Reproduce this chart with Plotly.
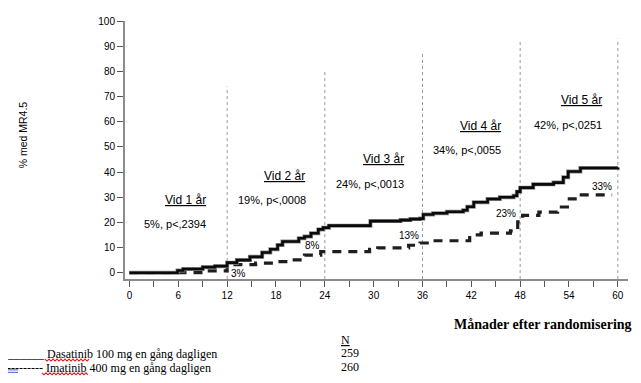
import plotly.graph_objects as go

# ---- data ----
das_months = [0, 5.9, 6.6, 9.0, 10.5, 12.0, 13.2, 14.8, 16.3, 17.3, 18.2, 18.8, 20.8, 21.5, 22.3, 23.2,
              23.8, 24.5, 29.6, 33.3, 34.5, 35.7, 36.1, 37.3, 39.0, 41.0, 41.5, 42.3, 44.0, 45.5,
              47.2, 47.6, 48.0, 49.6, 52.1, 53.3, 53.9, 55.4, 60.0]
das_pct = [0, 0.9, 1.5, 2.2, 2.6, 4.0, 5.0, 6.3, 8.0, 9.3, 11.0, 12.4, 13.7, 14.4, 15.7, 17.2,
           17.9, 18.7, 20.5, 20.9, 21.3, 21.5, 23.1, 23.6, 24.2, 24.8, 26.2, 28.0, 29.3, 30.0,
           30.6, 32.2, 33.8, 35.1, 35.8, 37.9, 40.2, 41.6, 41.8]

ima_months = [0, 9.5, 12.0, 12.5, 15.5, 18.0, 20.0, 21.5, 23.5, 29.5, 30.5, 34.3, 35.7, 36.8,
              41.8, 43.2, 46.8, 47.7, 48.3, 50.3, 52.6, 53.8, 55.3, 59.3]
ima_pct = [0, 0.7, 2.5, 3.2, 3.8, 4.4, 5.1, 7.0, 8.4, 9.3, 9.9, 10.9, 11.8, 12.7,
           15.0, 15.7, 16.6, 20.2, 22.8, 24.1, 26.1, 29.3, 30.9, 30.9]

year_marks = [12, 24, 36, 48, 60]
year_line_tops = [74, 80.5, 87, 92, 93]

year_titles = ["Vid 1 år", "Vid 2 år", "Vid 3 år", "Vid 4 år", "Vid 5 år"]
year_stats = ["5%, p<,2394", "19%, p<,0008", "24%, p<,0013", "34%, p<,0055", "42%, p<,0251"]
ima_labels = ["3%", "8%", "13%", "23%", "33%"]

x_ticks = [0, 6, 12, 18, 24, 30, 36, 42, 48, 54, 60]
y_ticks = [0, 10, 20, 30, 40, 50, 60, 70, 80, 90, 100]

series_names = ["Dasatinib 100 mg en gång dagligen", "Imatinib 400 mg en gång dagligen"]
series_n = [259, 260]

# ---- layout helpers (page body has an 8px margin) ----
OFF = 8
W, H = 641 - OFF, 383 - OFF
ML, MT = 125 - OFF, 15 - OFF
PW, PH = 503, 264
MR, MB = W - ML - PW, H - MT - PH


def px(x):
    return (x - OFF - ML) / PW


def py(y):
    return (MT + PH - (y - OFF)) / PH


fig = go.Figure()

# year reference lines
for xm, top in zip(year_marks, year_line_tops):
    fig.add_trace(go.Scatter(x=[xm, xm], y=[-2.5, top], mode="lines",
                             line=dict(color="#9a9a9a", width=1, dash="dot"),
                             hoverinfo="skip", showlegend=False))

fig.add_trace(go.Scatter(x=ima_months, y=ima_pct, mode="lines", line_shape="hv",
                         line=dict(color="#1e1e1e", width=3.2, dash="9px,7px"),
                         name=series_names[1], showlegend=False))
fig.add_trace(go.Scatter(x=das_months, y=das_pct, mode="lines", line_shape="hv",
                         line=dict(color="#8a8a8a", width=4.0),
                         hoverinfo="skip", showlegend=False))
fig.add_trace(go.Scatter(x=das_months, y=das_pct, mode="lines", line_shape="hv",
                         line=dict(color="#0a0a0a", width=2.6),
                         name=series_names[0], showlegend=False))

ann = []
sans = "Liberation Sans, Arial, sans-serif"
serif = "Liberation Serif, Times New Roman, serif"

title_pos = [(6.9, 29.0), (19.0, 38.5), (31.2, 45.1), (43.1, 58.4), (55.5, 68.5)]
stat_pos = [(5.6, 19.4), (17.5, 28.8), (29.6, 35.4), (41.5, 48.6), (53.9, 58.8)]
lab_pos = [(13.4, -0.3), (22.5, 10.9), (34.3, 14.8), (46.2, 23.4), (58.1, 34.4)]

for t, (x, y) in zip(year_titles, title_pos):
    ann.append(dict(x=x, y=y, xref="x", yref="y", text="<u>" + t + "</u>", showarrow=False,
                    font=dict(family=sans, size=12, color="#000")))
for t, (x, y) in zip(year_stats, stat_pos):
    ann.append(dict(x=x, y=y, xref="x", yref="y", text=t, showarrow=False,
                    font=dict(family=sans, size=11, color="#000")))
for t, (x, y) in zip(ima_labels, lab_pos):
    ann.append(dict(x=x, y=y, xref="x", yref="y", text=t, showarrow=False,
                    font=dict(family=sans, size=10, color="#000")))

# y-axis title
ann.append(dict(x=px(23), y=py(132), xref="paper", yref="paper", xanchor="center", yanchor="middle",
                text="% med MR4.5", textangle=-90, showarrow=False,
                font=dict(family=sans, size=10.5, color="#000")))
# x-axis title
ann.append(dict(x=px(634), y=py(326), xref="paper", yref="paper", xanchor="right", yanchor="middle",
                text="<b>Månader efter randomisering</b>", showarrow=False,
                font=dict(family=serif, size=14, color="#000")))
# legend block
ann.append(dict(x=px(5), y=py(356), xref="paper", yref="paper", xanchor="left", yanchor="middle",
                text="______ " + series_names[0], showarrow=False,
                font=dict(family=serif, size=12, color="#000")))
ann.append(dict(x=px(5), y=py(370), xref="paper", yref="paper", xanchor="left", yanchor="middle",
                text="--------- " + series_names[1], showarrow=False,
                font=dict(family=serif, size=12, color="#000")))
ann.append(dict(x=px(339), y=py(341), xref="paper", yref="paper", xanchor="left", yanchor="middle",
                text="<u>N</u>", showarrow=False, font=dict(family=serif, size=12, color="#000")))
for n, yy in zip(series_n, [355, 369]):
    ann.append(dict(x=px(339), y=py(yy), xref="paper", yref="paper", xanchor="left", yanchor="middle",
                    text=str(n), showarrow=False, font=dict(family=serif, size=12, color="#000")))


# spell-check style wavy underlines from the source document
def wavy(x0, x1, y):
    pts = []
    x = x0
    i = 0
    while x <= x1:
        pts.append((px(x), py(y + (1 if i % 2 else -1))))
        x += 2
        i += 1
    return "M" + "L".join(f"{a:.5f},{b:.5f}" for a, b in pts)


shapes = [
    dict(type="path", xref="paper", yref="paper", path=wavy(45, 90, 362),
         line=dict(color="#e02020", width=1.1), layer="above"),
    dict(type="path", xref="paper", yref="paper", path=wavy(42, 88, 376),
         line=dict(color="#e02020", width=1.1), layer="above"),
    dict(type="line", xref="paper", yref="paper", x0=px(6), x1=px(18), y0=py(372), y1=py(372),
         line=dict(color="#3a5fcd", width=1)),
    dict(type="line", xref="paper", yref="paper", x0=px(6), x1=px(18), y0=py(374.5), y1=py(374.5),
         line=dict(color="#3a5fcd", width=1)),
]

fig.update_layout(
    width=W, height=H,
    margin=dict(l=ML, r=MR, t=MT, b=MB, pad=0),
    paper_bgcolor="white", plot_bgcolor="white",
    showlegend=False,
    annotations=ann,
    shapes=shapes,
    xaxis=dict(range=[-0.55, 61.25], tickvals=x_ticks, showgrid=False, zeroline=False,
               showline=True, linecolor="#8c8c8c", linewidth=2,
               ticks="outside", ticklen=6, tickwidth=1, tickcolor="#555",
               minor=dict(dtick=3, tick0=0, ticks="outside", ticklen=6, tickcolor="#555", tickwidth=1),
               tickfont=dict(family=sans, size=10, color="#000")),
    yaxis=dict(range=[-2.5, 100], tickvals=y_ticks, showgrid=False, zeroline=False,
               showline=True, linecolor="#8c8c8c", linewidth=2,
               ticks="outside", ticklen=6, tickwidth=1, tickcolor="#555",
               tickfont=dict(family=sans, size=10, color="#000")),
)

fig.write_html("out.html")
